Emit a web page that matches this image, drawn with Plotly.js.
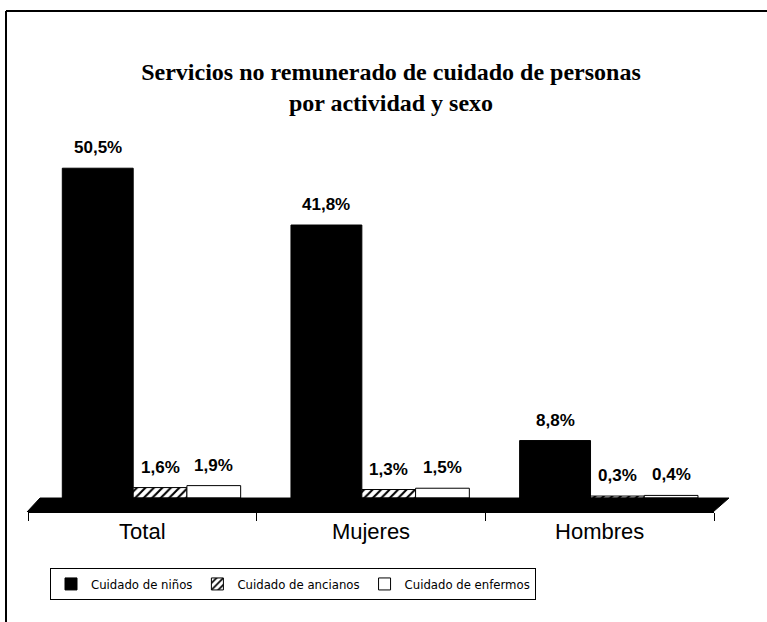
<!DOCTYPE html>
<html>
<head>
<meta charset="utf-8">
<script src="https://cdn.plot.ly/plotly-3.0.1.min.js"></script>
<style>
  html, body { margin: 0; padding: 0; background: #ffffff; }
  #chart { width: 767px; height: 622px; }
</style>
</head>
<body>
<div id="chart"></div>
<script>
// ---- data ----
const categories = ['Total', 'Mujeres', 'Hombres'];
const seriesNames = ['Cuidado de niños', 'Cuidado de ancianos', 'Cuidado de enfermos'];
const ninos = [50.5, 41.8, 8.8];
const ancianos = [1.6, 1.3, 0.3];
const enfermos = [1.9, 1.5, 0.4];
const titleText = 'Servicios no remunerado de cuidado de personas<br>por actividad y sexo';

// ---- layout / style ----
const W = 767, H = 622;
const marginL = 28, marginR = 53, marginT = 130, marginB = 110;
const plotW = W - marginL - marginR;
const plotH = H - marginT - marginB;
const yMin = -2.14, yMax = 56.35;

// per-series bar geometry (fractions of one category slot)
const barStyle = [
  { offset: -0.35, width: 0.31, color: '#000000', pattern: '', line: '#000000' },
  { offset: -0.04, width: 0.235, color: '#ffffff', pattern: '/', line: '#000000' },
  { offset: 0.195, width: 0.235, color: '#ffffff', pattern: '', line: '#000000' }
];
const seriesValues = [ninos, ancianos, enfermos];

const fmt = v => v.toFixed(1).replace('.', ',') + '%';
const xIdx = categories.map((c, i) => i);

const traces = seriesValues.map((vals, s) => {
  const st = barStyle[s];
  const marker = { color: st.color, line: { color: st.line, width: 1 } };
  if (st.pattern) {
    marker.pattern = { shape: st.pattern, fgcolor: '#000000', bgcolor: '#ffffff', size: 6, solidity: 0.35 };
  }
  return {
    type: 'bar',
    name: seriesNames[s],
    x: categories,
    y: vals,
    offset: st.offset,
    width: st.width,
    marker: marker,
    hoverinfo: 'skip'
  };
});

// value labels above each bar
const annotations = [];
seriesValues.forEach((vals, s) => {
  const st = barStyle[s];
  vals.forEach((v, i) => {
    annotations.push({
      x: xIdx[i] + st.offset + st.width / 2,
      y: v,
      xref: 'x', yref: 'y',
      text: fmt(v),
      showarrow: false,
      yanchor: 'bottom',
      yshift: 9,
      font: { family: 'Liberation Sans, Arial, sans-serif', size: 17, color: '#000000', weight: 'bold' }
    });
  });
});

const px2paperX = px => (px - marginL) / plotW;
const px2paperY = py => (H - marginB - py) / plotH;

const shapes = [
  // floor (3D base plate)
  {
    type: 'path', xref: 'paper', yref: 'y', layer: 'above',
    path: 'M ' + px2paperX(27) + ',' + yMin + ' L ' + px2paperX(40) + ',0 L ' +
          px2paperX(729) + ',0 L ' + px2paperX(713) + ',' + yMin + ' Z',
    fillcolor: '#000000', line: { color: '#000000', width: 1 }
  },
  // frame: top and left edges
  {
    type: 'line', xref: 'paper', yref: 'paper',
    x0: px2paperX(6), x1: px2paperX(767), y0: px2paperY(11), y1: px2paperY(11),
    line: { color: '#000000', width: 2 }
  },
  {
    type: 'line', xref: 'paper', yref: 'paper',
    x0: px2paperX(6), x1: px2paperX(6), y0: px2paperY(11), y1: px2paperY(622),
    line: { color: '#000000', width: 2 }
  }
];

const layout = {
  width: W, height: H,
  margin: { l: marginL, r: marginR, t: marginT, b: marginB },
  paper_bgcolor: '#ffffff',
  plot_bgcolor: '#ffffff',
  barmode: 'overlay',
  title: {
    text: titleText,
    x: 391 / W, xref: 'container', xanchor: 'center',
    y: 1 - 80 / H, yref: 'container', yanchor: 'top',
    font: { family: 'Liberation Serif, "Times New Roman", serif', size: 24, color: '#000000', weight: 'bold' }
  },
  xaxis: {
    type: 'category',
    showgrid: false,
    showline: true, linecolor: '#000000', linewidth: 1,
    ticks: 'outside', tickson: 'boundaries', ticklen: 8, tickcolor: '#000000', tickwidth: 1,
    tickfont: { family: 'Liberation Sans, Arial, sans-serif', size: 22, color: '#000000' },
    zeroline: false,
    fixedrange: true
  },
  yaxis: {
    range: [yMin, yMax],
    visible: false,
    showgrid: false,
    zeroline: false,
    fixedrange: true
  },
  showlegend: true,
  legend: {
    orientation: 'h',
    x: px2paperX(50), xanchor: 'left',
    y: px2paperY(568), yanchor: 'top',
    bordercolor: '#000000', borderwidth: 1,
    bgcolor: '#ffffff',
    font: { family: '"DejaVu Sans Condensed", "DejaVu Sans", sans-serif', stretch: 'condensed', size: 13, color: '#000000' },
    itemwidth: 30,
    tracegroupgap: 0,
    traceorder: 'normal'
  },
  annotations: annotations,
  shapes: shapes
};

Plotly.newPlot('chart', traces, layout, { displayModeBar: false, staticPlot: true });
</script>
</body>
</html>
